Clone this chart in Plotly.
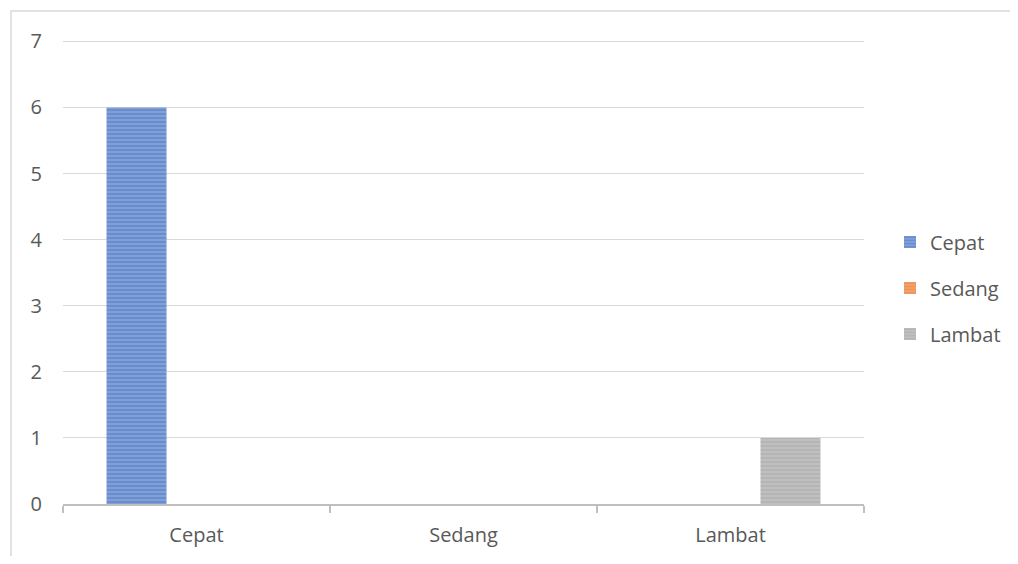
import plotly.graph_objects as go

categories = ["Cepat", "Sedang", "Lambat"]
series_names = ["Cepat", "Sedang", "Lambat"]
cepat_vals = [6, 0, 0]
sedang_vals = [0, 0, 0]
lambat_vals = [0, 0, 1]
y_ticks = [0, 1, 2, 3, 4, 5, 6, 7]

colors = ["#4472C4", "#ED7D31", "#A5A5A5"]
bg_colors = ["#8EA9DB", "#F2AA7A", "#C4C4C4"]

# page is offset by the 8px default body margin
W, H = 1002, 548
L, T = 55, 32
pw, ph = 801, 464
R = W - L - pw
B = H - T - ph
y_top = 7.02

fig = go.Figure()
for name, vals, c, bg in zip(series_names, [cepat_vals, sedang_vals, lambat_vals], colors, bg_colors):
    fig.add_trace(go.Bar(
        x=categories, y=vals, name=name, legendgroup=name,
        marker=dict(color=bg, line=dict(width=0),
                    pattern=dict(shape="-", fgcolor=c, bgcolor=bg, size=4, solidity=0.68, fillmode="overlay")),
    ))

fig.add_shape(type="rect", xref="paper", yref="paper",
              x0=(3 - L) / pw, x1=(1100 - L) / pw,
              y0=-(700 - (H - B)) / ph, y1=((H - B) - 3) / ph,
              line=dict(color="#D9D9D9", width=1.5), fillcolor="rgba(0,0,0,0)", layer="below")

fig.update_layout(
    width=W, height=H,
    margin=dict(l=L, r=R, t=T, b=B, autoexpand=False),
    paper_bgcolor="white", plot_bgcolor="white",
    barmode="group", bargap=0.326, bargroupgap=0,
    font=dict(family="Open Sans, sans-serif", size=20, color="#595959"),
    showlegend=True,
    legend=dict(x=(882 - L) / pw, y=(H - B - 280) / ph, xanchor="left", yanchor="middle",
                font=dict(size=20, color="#595959"), tracegroupgap=17,
                itemwidth=30, bgcolor="rgba(0,0,0,0)"),
    xaxis=dict(type="category", showgrid=False, showline=True, linecolor="#BFBFBF", linewidth=2,
               ticks="outside", tickson="boundaries", ticklen=7, tickcolor="#BFBFBF", tickwidth=2,
               ticklabelstandoff=12),
    yaxis=dict(range=[0, y_top], tickvals=y_ticks, showgrid=True, gridcolor="#D9D9D9", gridwidth=1.3,
               showline=False, zeroline=False, ticks="", ticklabelstandoff=20),
)

fig.write_html("out.html")
